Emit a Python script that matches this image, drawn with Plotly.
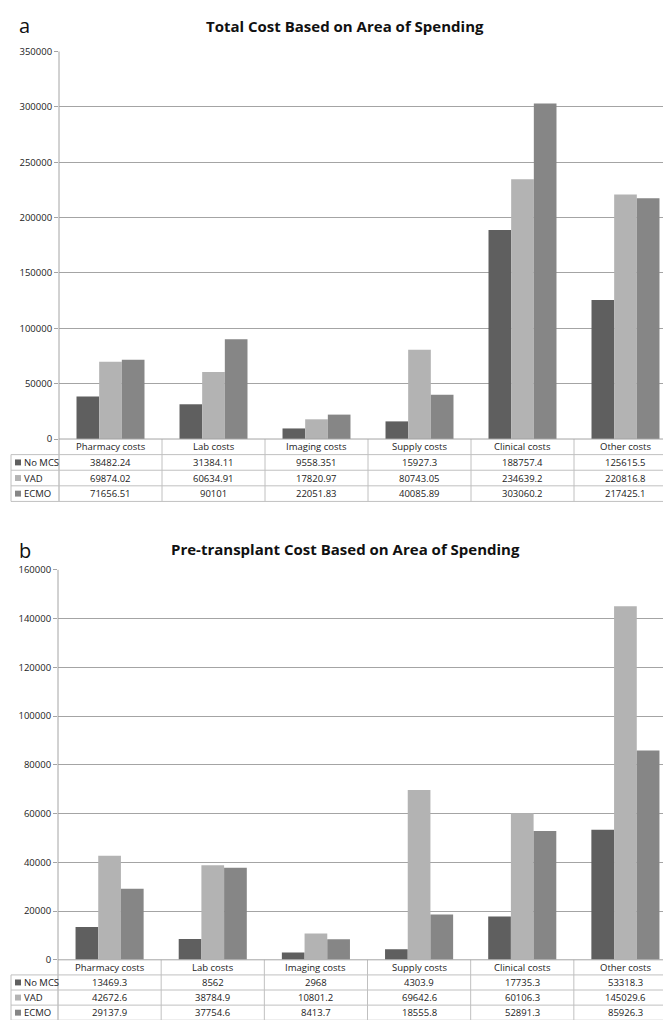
import plotly.graph_objects as go

categories = ["Pharmacy costs", "Lab costs", "Imaging costs", "Supply costs", "Clinical costs", "Other costs"]
series_names = ["No MCS", "VAD", "ECMO"]

total_no_mcs = [38482.24, 31384.11, 9558.351, 15927.3, 188757.4, 125615.5]
total_vad = [69874.02, 60634.91, 17820.97, 80743.05, 234639.2, 220816.8]
total_ecmo = [71656.51, 90101, 22051.83, 40085.89, 303060.2, 217425.1]

pre_no_mcs = [13469.3, 8562, 2968, 4303.9, 17735.3, 53318.3]
pre_vad = [42672.6, 38784.9, 10801.2, 69642.6, 60106.3, 145029.6]
pre_ecmo = [29137.9, 37754.6, 8413.7, 18555.8, 52891.3, 85926.3]

title_a = "Total Cost Based on Area of Spending"
title_b = "Pre-transplant Cost Based on Area of Spending"

colors = ["#5f5f5f", "#b3b3b3", "#868686"]
W, H = 671, 1020
FONT = "Open Sans"


def px(x):
    return x / W


def py(y):
    return 1 - y / H


def fmt(v):
    s = "%f" % v
    return s.rstrip("0").rstrip(".")


fig = go.Figure()
shapes = []
annotations = []

panels = [
    dict(xa="x", ya="y", data=[total_no_mcs, total_vad, total_ecmo], title=title_a, letter="a",
         left=51, right=669, top=37, base=429.5, row=15.8, ymax=350000, dtick=50000,
         title_y=11, letter_y=11),
    dict(xa="x2", ya="y2", data=[pre_no_mcs, pre_vad, pre_ecmo], title=title_b, letter="b",
         left=50, right=669, top=562, base=957, row=15.3, ymax=160000, dtick=20000,
         title_y=541, letter_y=542),
]

grid_col = "#a4a4a4"
border_col = "#c0c0c0"

for i, p in enumerate(panels):
    for name, vals, c in zip(series_names, p["data"], colors):
        fig.add_trace(go.Bar(x=categories, y=vals, name=name, marker=dict(color=c, line=dict(width=0)),
                             xaxis=p["xa"], yaxis=p["ya"], showlegend=False))
    axn = "" if i == 0 else "2"
    fig.layout["xaxis" + axn] = dict(domain=[px(p["left"]), px(p["right"])], range=[-0.5, 5.5],
                                     showticklabels=False, showgrid=False, zeroline=False,
                                     showline=False, ticks="", anchor="y" + axn, fixedrange=True)
    fig.layout["yaxis" + axn] = dict(domain=[py(p["base"]), py(p["top"])], range=[0, p["ymax"]],
                                     dtick=p["dtick"], tickformat="d", showgrid=True, gridcolor=grid_col,
                                     gridwidth=1, zeroline=False, showline=False,
                                     ticks="outside", ticklen=4, tickcolor=grid_col,
                                     tickfont=dict(family=FONT, size=9.5, color="#222"),
                                     anchor="x" + axn)
    xref = "x" + axn
    base = p["base"]
    r = p["row"]
    bottom = base + 4 * r
    # vertical axis line through the table
    shapes.append(dict(type="line", xref="paper", yref="paper", x0=px(p["left"]), x1=px(p["left"]),
                       y0=py(p["top"]), y1=py(bottom), line=dict(color=grid_col, width=1)))
    # column separators
    for k in range(1, 7):
        shapes.append(dict(type="line", xref=xref, yref="paper", x0=k - 0.5, x1=k - 0.5,
                           y0=py(base), y1=py(bottom), line=dict(color=border_col, width=1)))
    # baseline
    shapes.append(dict(type="line", xref="paper", yref="paper", x0=px(p["left"]), x1=px(p["right"]),
                       y0=py(base), y1=py(base), line=dict(color=grid_col, width=1)))
    # row lines
    for k in range(1, 5):
        yy = base + k * r
        shapes.append(dict(type="line", xref="paper", yref="paper", x0=px(3), x1=px(p["right"]),
                           y0=py(yy), y1=py(yy), line=dict(color=border_col, width=1)))
    # left outer border
    shapes.append(dict(type="line", xref="paper", yref="paper", x0=px(3), x1=px(3),
                       y0=py(base + r), y1=py(bottom), line=dict(color=border_col, width=1)))
    # header labels
    for cat in categories:
        annotations.append(dict(x=cat, y=py(base + r / 2), xref=xref, yref="paper", text=cat,
                                showarrow=False, font=dict(family=FONT, size=9.5, color="#222"),
                                xanchor="center", yanchor="middle"))
    # rows
    for j, (name, vals, c) in enumerate(zip(series_names, p["data"], colors)):
        yc = base + (j + 1.5) * r
        shapes.append(dict(type="rect", xref="paper", yref="paper", x0=px(7), x1=px(13),
                           y0=py(yc - 3), y1=py(yc + 3), fillcolor=c, line=dict(width=0)))
        annotations.append(dict(x=px(14), y=py(yc), xref="paper", yref="paper", text=name,
                                showarrow=False, font=dict(family=FONT, size=9.5, color="#222"),
                                xanchor="left", yanchor="middle"))
        for cat, v in zip(categories, vals):
            annotations.append(dict(x=cat, y=py(yc), xref=xref, yref="paper", text=fmt(v),
                                    showarrow=False, font=dict(family=FONT, size=9.5, color="#222"),
                                    xanchor="center", yanchor="middle"))
    # title and letter
    annotations.append(dict(x=px(337), y=py(p["title_y"]), xref="paper", yref="paper",
                            text="<b>" + p["title"] + "</b>", showarrow=False,
                            font=dict(family=FONT, size=15, color="#111"),
                            xanchor="center", yanchor="middle"))
    annotations.append(dict(x=px(9), y=py(p["letter_y"]), xref="paper", yref="paper",
                            text=p["letter"], showarrow=False,
                            font=dict(family=FONT, size=20, color="#111"),
                            xanchor="left", yanchor="middle"))

fig.update_layout(width=W, height=H, margin=dict(l=0, r=0, t=0, b=0),
                  paper_bgcolor="white", plot_bgcolor="white",
                  barmode="group", bargap=0.34, bargroupgap=0.0,
                  shapes=shapes, annotations=annotations, showlegend=False)

fig.write_html("out.html")
